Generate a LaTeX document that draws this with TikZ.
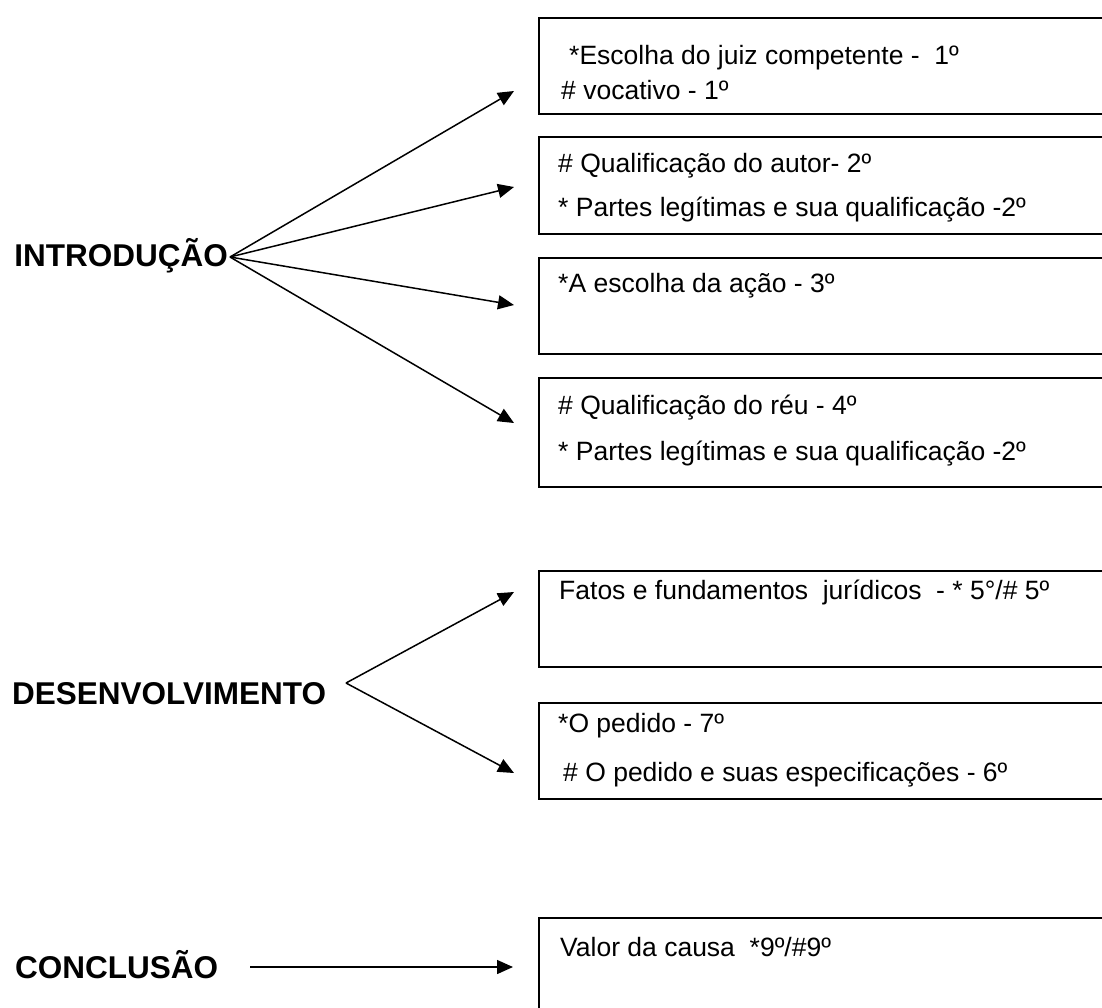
\documentclass[tikz,border=0pt]{standalone}
\usepackage{fontspec}
\setmainfont{Liberation Sans}
\usetikzlibrary{arrows.meta}
\begin{document}
\begin{tikzpicture}[x=1pt,y=-1pt,
  box/.style={draw, line width=1.7pt, rectangle, anchor=north west, inner sep=0pt, minimum width=640pt},
  txt/.style={anchor=base west, inner sep=0pt, font=\fontsize{26.5}{31}\selectfont},
  lbl/.style={inner sep=0pt, font=\fontsize{31.5}{38}\selectfont\bfseries},
  arr/.style={-{Triangle[length=16pt,width=14pt]}, line width=1.5pt},
]
\useasboundingbox (0,0) rectangle (1102,1007);
\fill[white] (0,0) rectangle (1102,1007);
\clip (0,0) rectangle (1102,1007);
% boxes
\node[box, minimum height=96pt]  (b1) at (538,17)  {};
\node[box, minimum height=97pt]  (b2) at (538,136) {};
\node[box, minimum height=96pt]  (b3) at (538,257) {};
\node[box, minimum height=109pt] (b4) at (538,377) {};
\node[box, minimum height=96pt]  (b5) at (538,570) {};
\node[box, minimum height=96pt]  (b6) at (538,702) {};
\node[box, minimum height=120pt] (b7) at (538,917) {};
% box texts
\node[txt] (t11) at (569,64)  {*Escolha do juiz competente -\ \ 1º};
\node[txt] (t12) at (561,99)  {\# vocativo - 1º};
\node[txt] (t21) at (558,172) {\# Qualificação do autor- 2º};
\node[txt] (t22) at (558,216) {* Partes legítimas e sua qualificação -2º};
\node[txt] (t31) at (558,292) {*A escolha da ação - 3º};
\node[txt] (t41) at (558,414) {\# Qualificação do réu - 4º};
\node[txt] (t42) at (558,460) {* Partes legítimas e sua qualificação -2º};
\node[txt] (t51) at (559,599) {Fatos e fundamentos\ \ jurídicos\ \ - * 5°/\# 5º};
\node[txt] (t61) at (558,732) {*O pedido - 7º};
\node[txt] (t62) at (563,781) {\# O pedido e suas especificações - 6º};
\node[txt] (t71) at (560,956) {Valor da causa\ \ *9º/\#9º};
% labels
\node[lbl, anchor=base east] (intro) at (228,266) {INTRODUÇÃO};
\node[lbl, anchor=base west] (desen) at (12,704) {DESENVOLVIMENTO};
\node[lbl, anchor=base west] (concl) at (15,978) {CONCLUSÃO};
% connector ends
\coordinate (ia) at (230,257);
\coordinate (da) at (346,683);
\coordinate (ca) at (250,967);
\coordinate (p1) at (514,91);
\coordinate (p2) at (514,187);
\coordinate (p3) at (514,305);
\coordinate (p4) at (514,423);
\coordinate (p5) at (514,592);
\coordinate (p6) at (514,773);
\coordinate (p7) at (513,967);
% arrows
\draw[arr] (ia) -- (p1);
\draw[arr] (ia) -- (p2);
\draw[arr] (ia) -- (p3);
\draw[arr] (ia) -- (p4);
\draw[arr] (da) -- (p5);
\draw[arr] (da) -- (p6);
\draw[arr] (ca) -- (p7);
\end{tikzpicture}
\end{document}
